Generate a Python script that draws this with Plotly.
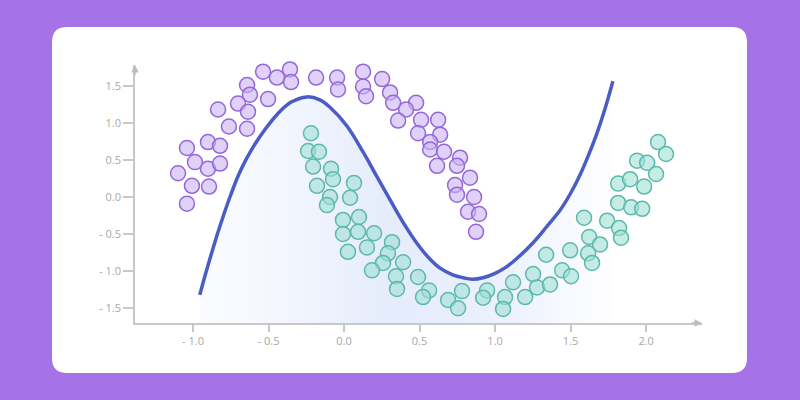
import plotly.graph_objects as go

# ---- data ----
purple_x = [-0.298, -0.132, -0.536, -0.358, -0.444, -0.351, -0.185, -0.046, 0.126, -0.040,
            0.126, -0.642, -0.623, -0.503, -0.702, -0.636, -0.834, -0.762, -0.642, -0.901,
            -0.821, -1.040, -0.987, -0.901, -0.821, -1.099, -1.007, -0.894, -1.040, 0.146,
            0.252, 0.305, 0.325, 0.477, 0.411, 0.358, 0.510, 0.623, 0.490, 0.636,
            0.570, 0.570, 0.662, 0.616, 0.768, 0.748, 0.834, 0.735, 0.748, 0.861,
            0.821, 0.894, 0.874]
purple_y = [1.81, 1.81, 1.69, 1.72, 1.61, 1.55, 1.61, 1.61, 1.69, 1.45,
            1.49, 1.51, 1.38, 1.32, 1.26, 1.15, 1.18, 0.95, 0.92, 0.74,
            0.69, 0.66, 0.47, 0.38, 0.45, 0.32, 0.15, 0.14, -0.09, 1.36,
            1.59, 1.41, 1.27, 1.27, 1.18, 1.03, 1.04, 1.04, 0.86, 0.84,
            0.74, 0.64, 0.61, 0.42, 0.53, 0.42, 0.26, 0.16, 0.03, 0.00,
            -0.20, -0.23, -0.47]

teal_x = [-0.219, -0.238, -0.166, -0.205, -0.086, -0.073, 0.066, -0.179, -0.093, 0.040,
          -0.113, -0.007, 0.099, -0.007, 0.093, 0.199, 0.152, 0.318, 0.026, 0.291,
          0.258, 0.391, 0.185, 0.344, 0.490, 0.351, 0.563, 0.523, 0.689, 0.781,
          0.755, 0.947, 0.921, 1.066, 1.119, 1.053, 1.199, 1.252, 1.278, 1.364,
          1.338, 1.444, 1.503, 1.497, 1.589, 1.623, 1.695, 1.616, 1.642, 1.742,
          1.821, 1.834, 1.815, 1.901, 1.974, 1.815, 1.894, 1.987, 1.940, 2.007,
          2.066, 2.079, 2.132]
teal_y = [0.86, 0.62, 0.61, 0.41, 0.38, 0.24, 0.19, 0.15, 0.00, -0.01,
          -0.11, -0.31, -0.27, -0.50, -0.47, -0.49, -0.68, -0.61, -0.74, -0.76,
          -0.89, -0.88, -0.99, -1.07, -1.08, -1.24, -1.26, -1.35, -1.39, -1.27,
          -1.50, -1.26, -1.36, -1.35, -1.15, -1.51, -1.35, -1.04, -1.22, -1.18,
          -0.78, -0.99, -1.07, -0.72, -0.28, -0.54, -0.64, -0.76, -0.89, -0.32,
          -0.42, -0.55, -0.08, -0.14, -0.16, 0.18, 0.24, 0.14, 0.49, 0.46,
          0.31, 0.74, 0.58]

curve_x = [-0.955, -0.92, -0.88, -0.84, -0.80, -0.75, -0.70, -0.65, -0.60, -0.52,
           -0.44, -0.35, -0.245, -0.16, -0.093, 0.018, 0.128, 0.216, 0.305, 0.393,
           0.481, 0.570, 0.636, 0.72, 0.79, 0.848, 0.92, 1.00, 1.07, 1.144,
           1.25, 1.342, 1.43, 1.50, 1.563, 1.618, 1.673, 1.728, 1.78]
curve_y = [-1.32, -1.06, -0.78, -0.51, -0.26, 0.03, 0.29, 0.50, 0.68, 0.92,
           1.12, 1.28, 1.35, 1.31, 1.21, 0.96, 0.60, 0.28, -0.04, -0.35,
           -0.62, -0.84, -0.96, -1.05, -1.09, -1.11, -1.09, -1.03, -0.95, -0.83,
           -0.62, -0.40, -0.18, 0.05, 0.30, 0.56, 0.85, 1.19, 1.56]

x_tick_vals = [-1.0, -0.5, 0.0, 0.5, 1.0, 1.5, 2.0]
x_tick_text = ["- 1.0", "- 0.5", "0.0", "0.5", "1.0", "1.5", "2.0"]
y_tick_vals = [1.5, 1.0, 0.5, 0.0, -0.5, -1.0, -1.5]
y_tick_text = ["1.5", "1.0", "0.5", "0.0", "- 0.5", "- 1.0", "- 1.5"]

X_RANGE = [-1.384, 2.37]
Y_RANGE = [-1.70, 1.78]

# ---- figure ----
W, H = 800, 400
L, R, T, B = 135, 98, 65, 77
PW, PH = W - L - R, H - T - B


def px_to_paper(px, py):
    return (px - L) / PW, (H - B - py) / PH


def rounded_rect(x0, y0, x1, y1, r):
    ax, ay = px_to_paper(x0, y0)
    bx, by = px_to_paper(x1, y1)
    rx, ry = r / PW, r / PH
    return (f"M {ax + rx},{ay} L {bx - rx},{ay} Q {bx},{ay} {bx},{ay - ry} "
            f"L {bx},{by + ry} Q {bx},{by} {bx - rx},{by} "
            f"L {ax + rx},{by} Q {ax},{by} {ax},{by + ry} "
            f"L {ax},{ay - ry} Q {ax},{ay} {ax + rx},{ay} Z")


fig = go.Figure()

# baseline for the fill under the curve
fig.add_trace(go.Scatter(x=curve_x, y=[Y_RANGE[0]] * len(curve_x), mode="lines",
                         line=dict(width=0, color="rgba(0,0,0,0)"), hoverinfo="skip",
                         showlegend=False))
fig.add_trace(go.Scatter(
    x=curve_x, y=curve_y, mode="lines",
    line=dict(color="#4a5cc6", width=3.5, shape="spline", smoothing=1.0),
    fill="tonexty",
    fillgradient=dict(type="horizontal",
                      colorscale=[[0, "rgba(240,244,253,0.3)"], [0.45, "rgba(224,232,251,0.85)"],
                                  [0.75, "rgba(228,235,252,0.7)"], [1, "rgba(245,247,254,0.2)"]]),
    showlegend=False, cliponaxis=False))

fig.add_trace(go.Scatter(
    x=purple_x, y=purple_y, mode="markers", showlegend=False, cliponaxis=False,
    marker=dict(size=15, color="rgba(204,178,243,0.6)", line=dict(color="#9568d8", width=1.5))))
fig.add_trace(go.Scatter(
    x=teal_x, y=teal_y, mode="markers", showlegend=False, cliponaxis=False,
    marker=dict(size=15, color="rgba(160,224,214,0.6)", line=dict(color="#5cb9ab", width=1.5))))

axis_common = dict(showgrid=False, zeroline=False, showline=True, linecolor="#c8c8c8",
                   linewidth=1.5, ticks="outside", tickcolor="#c8c8c8", tickwidth=1.5,
                   tickfont=dict(family="Open Sans", size=11, color="#a8a8a8"), fixedrange=True)

fig.update_xaxes(range=X_RANGE, tickvals=x_tick_vals, ticktext=x_tick_text, ticklen=7,
                 **axis_common)
fig.update_yaxes(range=Y_RANGE, tickvals=y_tick_vals, ticktext=y_tick_text, ticklen=10,
                 **axis_common)

fig.add_shape(type="path", xref="paper", yref="paper", layer="below",
              path=rounded_rect(52, 27, 747, 373, 15),
              fillcolor="white", line=dict(width=0))

# axis arrows
fig.add_annotation(x=1, y=0, xref="paper", yref="paper", ax=-12, ay=0, text="",
                   showarrow=True, arrowhead=2, arrowsize=1, arrowwidth=1.5,
                   arrowcolor="#bdbdbd")
fig.add_annotation(x=0, y=1, xref="paper", yref="paper", ax=0, ay=12, text="",
                   showarrow=True, arrowhead=2, arrowsize=1, arrowwidth=1.5,
                   arrowcolor="#bdbdbd")

fig.update_layout(width=W, height=H, margin=dict(l=L, r=R, t=T, b=B),
                  paper_bgcolor="#a672e8", plot_bgcolor="rgba(0,0,0,0)")

fig.write_html("out.html", config={"displayModeBar": False},
               post_script="document.body.style.margin='0';")
